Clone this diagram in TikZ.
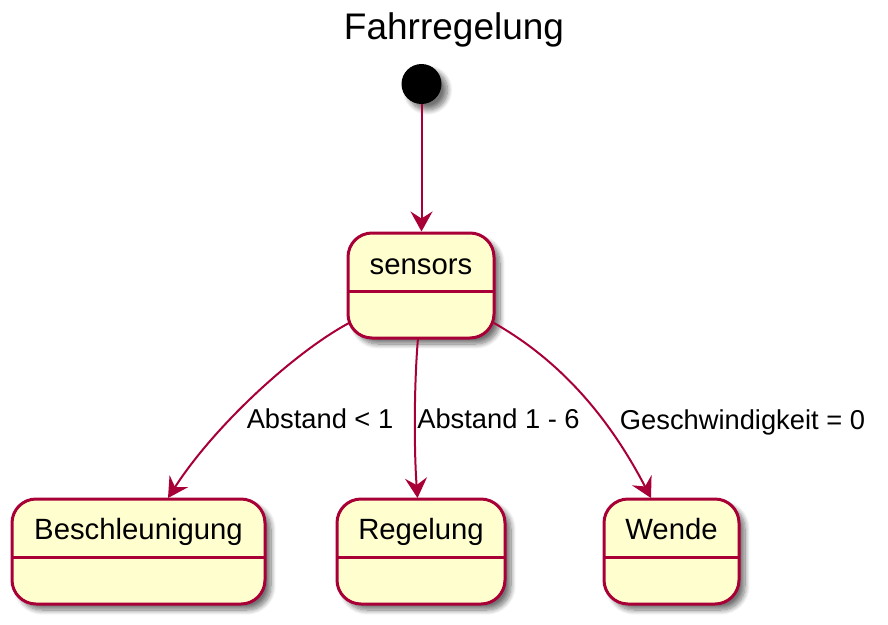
\documentclass[tikz,border=0pt]{standalone}
\usepackage{fontspec}
\setmainfont{Liberation Sans}
\usetikzlibrary{arrows.meta,shadows.blur}
\definecolor{umlborder}{HTML}{A80036}
\definecolor{umlfill}{HTML}{FEFECE}
\tikzset{
  umlshadow/.style={blur shadow={shadow xshift=6pt, shadow yshift=-6pt, shadow blur steps=10, shadow blur radius=5pt, shadow opacity=55}},
  statebox/.style={draw=umlborder, fill=umlfill, line width=3pt, rounded corners=24pt,
    inner sep=0pt, umlshadow},
  statetext/.style={anchor=base, inner sep=0pt, font=\fontsize{29.3}{34}\selectfont},
  sep/.style={draw=umlborder, line width=3pt},
  trans/.style={draw=umlborder, line width=2pt, -{Stealth[length=20pt,width=22pt,inset=7pt]}},
  translabel/.style={anchor=base, inner sep=0pt, font=\fontsize{27.3}{32}\selectfont},
}
\begin{document}
\begin{tikzpicture}[x=1pt,y=-1pt]
\useasboundingbox (0,0) rectangle (888,624);
% title
\node[anchor=base, inner sep=0pt, font=\fontsize{37}{44}\selectfont] (title) at (454,39) {Fahrregelung};
% initial
\node[circle, fill=black, minimum size=40pt, inner sep=0pt, umlshadow] (init) at (421.5,84) {};
% states
\node[statebox, minimum width=146pt, minimum height=105pt] (s) at (421,285.5) {};
\node[statetext] (st) at (421,274) {sensors};
\draw[sep] (348,291) -- (494,291);

\node[statebox, minimum width=253pt, minimum height=105pt] (b) at (138.5,551.5) {};
\node[statetext] (bt) at (138.5,539) {Beschleunigung};
\draw[sep] (12,557) -- (265,557);

\node[statebox, minimum width=168pt, minimum height=105pt] (r) at (421,551.5) {};
\node[statetext] (rt) at (421,539) {Regelung};
\draw[sep] (337,557) -- (505,557);

\node[statebox, minimum width=135pt, minimum height=105pt] (w) at (671.5,551.5) {};
\node[statetext] (wt) at (671.5,539) {Wende};
\draw[sep] (604,557) -- (739,557);

% transitions
\coordinate (sB) at (349,323);
\coordinate (sR) at (418,338);
\coordinate (sW) at (494,323);
\coordinate (eB) at (168,498);
\coordinate (eR) at (417.5,498);
\coordinate (eW) at (651,498);
\draw[trans] (init.south) -- (s.north -| init.south);
\draw[trans] (sB) .. controls (295,352) and (215,425) .. (eB);
\draw[trans] (sR) .. controls (414,385) and (414,450) .. (eR);
\draw[trans] (sW) .. controls (545,352) and (600,400) .. (eW);

\node[translabel] (l1) at (320,428) {Abstand < 1};
\node[translabel] (l2) at (498.5,428) {Abstand 1 - 6};
\node[translabel] (l3) at (742.5,429) {Geschwindigkeit = 0};
\end{tikzpicture}
\end{document}
